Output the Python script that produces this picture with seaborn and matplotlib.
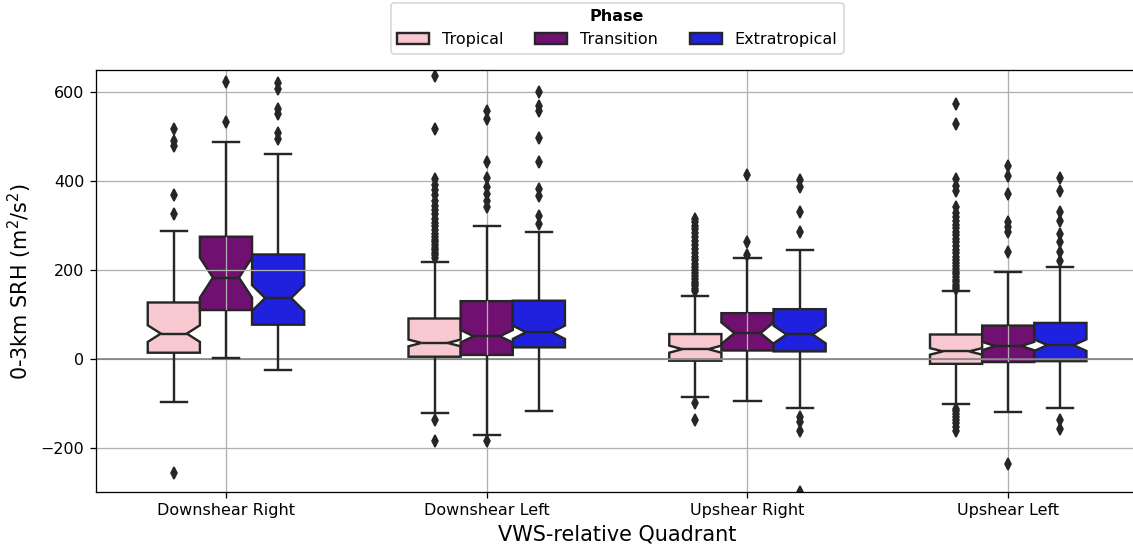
import matplotlib
matplotlib.use("Agg")
import matplotlib.pyplot as plt
import numpy as np
import pandas as pd
import seaborn as sns

# Categories
quadrants = ["Downshear Right", "Downshear Left", "Upshear Right", "Upshear Left"]
phases = ["Tropical", "Transition", "Extratropical"]
phase_colors = ["pink", "purple", "blue"]

# Box summaries per phase, one value per quadrant (m^2/s^2)
tropical_q1 = [14, 5, -4, -11]
tropical_median = [57, 36, 22, 17]
tropical_q3 = [127, 91, 56, 55]
tropical_whisker_low = [-97, -122, -86, -101]
tropical_whisker_high = [287, 218, 142, 153]
tropical_count = [90, 320, 140, 200]
tropical_outliers = [
    [-256, 326, 368, 480, 490, 517],
    [-185, -137, 228, 233, 238, 244, 250, 256, 262, 268, 275, 282, 290, 298,
     306, 315, 325, 335, 345, 356, 368, 381, 392, 404, 517, 637],
    [-137, -99, 153, 158, 163, 168, 174, 180, 186, 193, 200, 207, 214, 222,
     230, 238, 247, 256, 265, 274, 283, 292, 300, 308, 315],
    [-161, -152, -145, -138, -131, -124, -118, -112, 157, 162, 167, 172, 178,
     184, 190, 196, 202, 209, 216, 223, 230, 238, 246, 254, 262, 270, 278,
     286, 294, 302, 310, 319, 328, 341, 377, 390, 404, 528, 574],
]

transition_q1 = [110, 9, 19, -7]
transition_median = [183, 51, 58, 29]
transition_q3 = [275, 130, 103, 75]
transition_whisker_low = [1, -170, -94, -120]
transition_whisker_high = [487, 300, 226, 195]
transition_count = [33, 184, 30, 185]
transition_outliers = [
    [532, 624],
    [-184, 341, 356, 371, 386, 408, 442, 540, 558],
    [233, 262, 414],
    [-236, 241, 285, 296, 307, 371, 412, 434],
]

extratropical_q1 = [77, 26, 17, -5]
extratropical_median = [137, 60, 55, 31]
extratropical_q3 = [235, 131, 112, 81]
extratropical_whisker_low = [-25, -117, -110, -111]
extratropical_whisker_high = [462, 286, 245, 206]
extratropical_count = [73, 120, 56, 108]
extratropical_outliers = [
    [494, 508, 550, 562, 607, 621],
    [303, 322, 367, 382, 442, 496, 557, 569, 601],
    [-300, -161, -142, -130, 286, 330, 386, 403],
    [-157, -137, 221, 240, 262, 281, 311, 330, 377, 408],
]


def group_sample(q1, med, q3, lo, hi, outliers, n):
    """Observations of one group: outliers, whisker ends and the box knots."""
    low_out = sorted(v for v in outliers if v < lo)
    high_out = sorted(v for v in outliers if v > hi)
    n_low, n_high = len(low_out), len(high_out)
    p1, p2, p3 = 0.25 * (n - 1), 0.5 * (n - 1), 0.75 * (n - 1)
    a = int((p1 + p2) / 2) - n_low
    b = int((p2 + p3) / 2) - n_low - a
    c = n - n_low - n_high - 2 - a - b
    return low_out + [lo] + [q1] * a + [med] * b + [q3] * c + [hi] + high_out


summaries = {
    "Tropical": (tropical_q1, tropical_median, tropical_q3, tropical_whisker_low,
                 tropical_whisker_high, tropical_outliers, tropical_count),
    "Transition": (transition_q1, transition_median, transition_q3,
                   transition_whisker_low, transition_whisker_high,
                   transition_outliers, transition_count),
    "Extratropical": (extratropical_q1, extratropical_median, extratropical_q3,
                      extratropical_whisker_low, extratropical_whisker_high,
                      extratropical_outliers, extratropical_count),
}

rows = []
for phase, (q1s, meds, q3s, los, his, outs, counts) in summaries.items():
    for i, quad in enumerate(quadrants):
        values = group_sample(q1s[i], meds[i], q3s[i], los[i], his[i], outs[i], counts[i])
        rows.extend((quad, phase, v) for v in values)
df = pd.DataFrame(rows, columns=["Quadrant", "Phase", "SRH"])

W, H, DPI = 1133, 548, 115
fig = plt.figure(figsize=(W / DPI, H / DPI), dpi=DPI)
ax = fig.add_axes([95.6 / W, 55.7 / H, 1043 / W, 422.3 / H])

line_gray = "#262626"
sns.boxplot(
    data=df, x="Quadrant", y="SRH", hue="Phase",
    order=quadrants, hue_order=phases, palette=phase_colors,
    width=0.6, notch=True, linewidth=1.5, linecolor=line_gray,
    flierprops=dict(marker="d", markerfacecolor=line_gray,
                    markeredgecolor=line_gray, markersize=5),
    ax=ax,
)
for patch in ax.patches:
    patch.set_zorder(1)

ax.axhline(0, color="gray", linewidth=1.0, zorder=1.6)
ax.grid(True)
ax.set_ylim(-300, 650)
ax.set_yticks([-200, 0, 200, 400, 600])
ax.set_xlabel("VWS-relative Quadrant", fontsize=13)
ax.set_ylabel("0-3km SRH (m$^2$/s$^2$)", fontsize=13)

sns.move_legend(
    ax, "lower center", bbox_to_anchor=(0.5, 1.02), ncol=3,
    title="Phase", frameon=True, title_fontproperties={"weight": "bold"},
)

fig.savefig("out.png", dpi=DPI)
